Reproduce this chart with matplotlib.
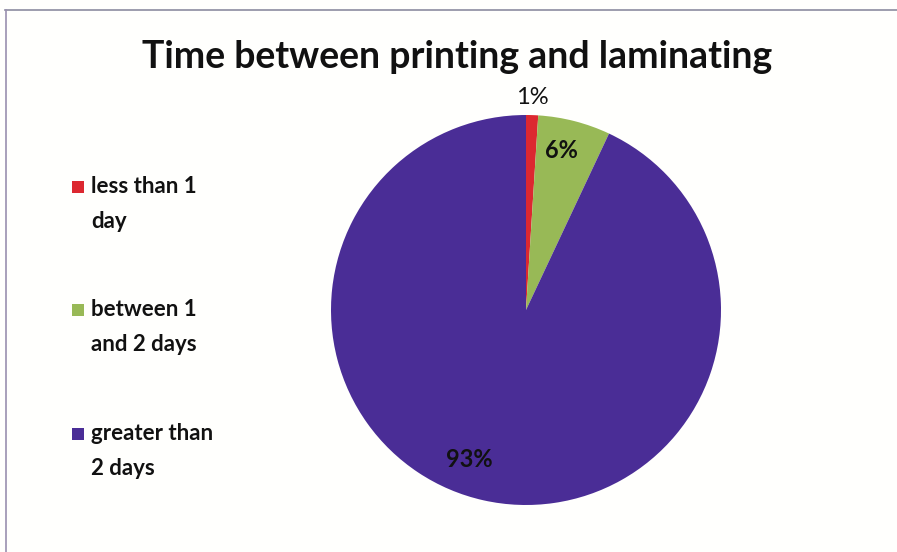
import numpy as np
import matplotlib.pyplot as plt
from matplotlib.patches import Rectangle
from matplotlib.lines import Line2D

categories = ['less than 1\nday', 'between 1\nand 2 days', 'greater than\n2 days']
values = [1, 6, 93]
pct_labels = ['1%', '6%', '93%']
colors = ['#DC2830', '#98B956', '#4A2D96']

W, H = 897, 552
fig = plt.figure(figsize=(W / 100, H / 100), dpi=100)
fig.patch.set_facecolor('#FFFFFD')

# frame (only top and left visible in the scan)
fig.add_artist(Line2D([5 / W, 1], [1 - 10 / H, 1 - 10 / H], color='#8C8CA0', lw=1.2))
fig.add_artist(Line2D([6 / W, 6 / W], [0, 1 - 10 / H], color='#9A90B0', lw=1.2))

fig.text(457 / W, 1 - 68 / H, 'Time between printing and laminating',
         ha='center', va='baseline', fontsize=27, fontweight='bold',
         family='Lato', color='#111111')

# pie
cx, cy, r = 526, 310, 195
ax = fig.add_axes([(cx - r) / W, (H - cy - r) / H, 2 * r / W, 2 * r / H])
wedges, _ = ax.pie(values, colors=colors, startangle=90, counterclock=False,
                   wedgeprops=dict(linewidth=0, clip_on=False))
ax.set_xlim(-1, 1)
ax.set_ylim(-1, 1)
ax.set_aspect('equal')
ax.axis('off')

dists = [1.09, 0.84, 0.82]
shifts = [0, 2, -8]
weights = ['normal', 'bold', 'bold']
for w, lab, d, s, fw in zip(wedges, pct_labels, dists, shifts, weights):
    ang = np.deg2rad((w.theta1 + w.theta2) / 2 + s)
    ax.text(d * np.cos(ang), d * np.sin(ang), lab, ha='center', va='center',
            fontsize=17, fontweight=fw, family='Lato', color='#111111')

# legend on the left (baseline of first line)
baselines = [195, 318, 442]
line_gap = 33
for lab, col, yb in zip(categories, colors, baselines):
    fig.add_artist(Rectangle((72 / W, 1 - (yb - 2) / H), 12 / W, 12 / H,
                             transform=fig.transFigure, facecolor=col, edgecolor='none'))
    # multiline 'baseline' alignment uses the last line
    fig.text(91 / W, 1 - (yb + line_gap) / H, lab, ha='left', va='baseline', fontsize=16,
             fontweight='bold', family='Lato', color='#111111', linespacing=1.85)

plt.savefig('out.png', dpi=100, facecolor=fig.get_facecolor())
